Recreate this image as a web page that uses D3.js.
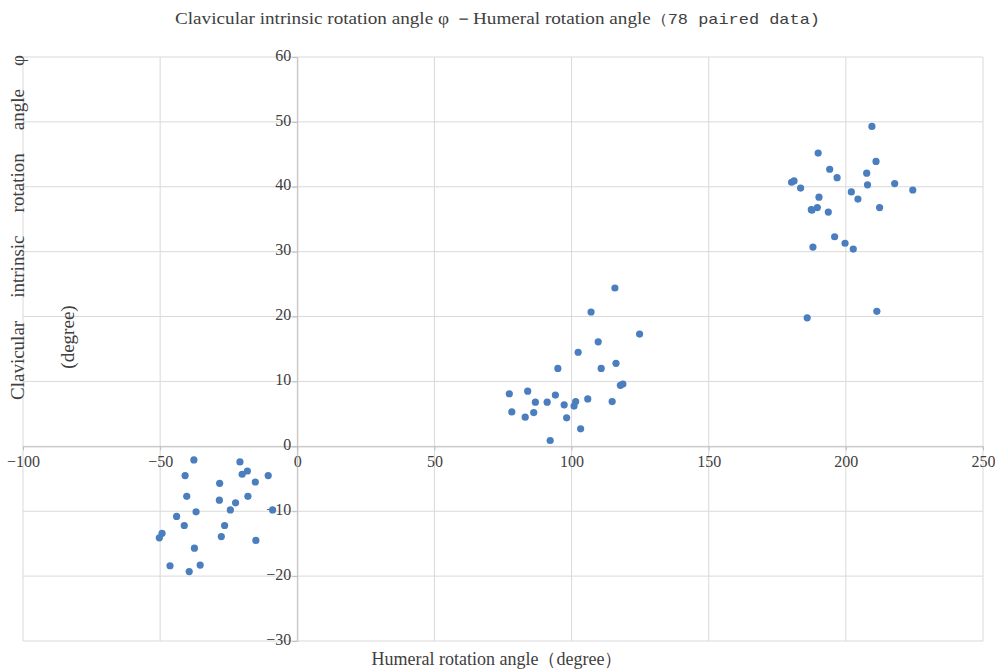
<!DOCTYPE html>
<html>
<head>
<meta charset="utf-8">
<script src="https://cdn.jsdelivr.net/npm/d3@7"></script>
<style>
  body { margin: 0; background: #fff; }
  text { font-family: "Liberation Serif", "DejaVu Serif", serif; fill: #404040; }
</style>
</head>
<body>
<div id="chart"></div>
<script>
// humeral rotation angle (x) and clavicular intrinsic rotation angle (y), 78 pairs
const humeral = [
  -37.7, -20.9, -40.9, -20.1, -18.2, -10.6, -28.3, -15.3, -40.3, -18.0,
  -28.4, -22.5, -24.4, -36.9, -9.0, -44.0, -41.2, -26.5, -49.3, -50.3,
  -27.7, -15.1, -37.5, -46.4, -35.4, -39.4,
  115.8, 107.1, 124.8, 109.7, 102.4, 116.2, 95.0, 110.8, 117.8, 118.7,
  77.3, 84.0, 94.1, 86.8, 91.1, 101.5, 100.9, 105.9, 114.8, 97.3,
  78.2, 86.2, 83.1, 98.2, 103.3, 92.2,
  209.5, 189.9, 211.0, 194.1, 207.6, 196.8, 180.2, 181.1, 217.8, 207.9,
  183.5, 224.4, 202.0, 190.2, 204.4, 187.4, 187.6, 189.6, 212.3, 193.6,
  195.9, 199.7, 188.0, 202.7, 211.3, 185.9
];
const clavicular = [
  -2.1, -2.4, -4.5, -4.3, -3.8, -4.5, -5.7, -5.5, -7.7, -7.7,
  -8.3, -8.7, -9.8, -10.1, -9.8, -10.8, -12.2, -12.2, -13.4, -14.1,
  -13.9, -14.5, -15.7, -18.4, -18.3, -19.3,
  24.4, 20.7, 17.3, 16.1, 14.5, 12.8, 12.0, 12.0, 9.4, 9.6,
  8.1, 8.5, 7.9, 6.8, 6.8, 6.9, 6.2, 7.3, 6.9, 6.4,
  5.3, 5.2, 4.5, 4.4, 2.7, 0.9,
  49.3, 45.2, 43.9, 42.7, 42.1, 41.4, 40.7, 40.9, 40.5, 40.3,
  39.8, 39.5, 39.2, 38.4, 38.1, 36.5, 36.4, 36.8, 36.8, 36.1,
  32.3, 31.3, 30.7, 30.4, 20.8, 19.8
];
const xTicks = [-100, -50, 0, 50, 100, 150, 200, 250];
const yTicks = [-30, -20, -10, 0, 10, 20, 30, 40, 50, 60];

const width = 995, height = 671;
const margin = {top: 57, right: 12, bottom: 30, left: 23};

const svg = d3.select("#chart")
    .append("svg")
    .attr("width", width)
    .attr("height", height);

const x = d3.scaleLinear().domain([-100, 250]).range([margin.left, width - margin.right]);
const y = d3.scaleLinear().domain([-30, 60]).range([height - margin.bottom, margin.top]);

// gridlines
svg.append("g")
    .selectAll("line")
    .data(xTicks)
    .enter()
    .append("line")
    .attr("x1", d => x(d)).attr("x2", d => x(d))
    .attr("y1", y(60)).attr("y2", y(-30))
    .attr("stroke", "#d9d9d9");

svg.append("g")
    .selectAll("line")
    .data(yTicks)
    .enter()
    .append("line")
    .attr("x1", x(-100)).attr("x2", x(250))
    .attr("y1", d => y(d)).attr("y2", d => y(d))
    .attr("stroke", "#d9d9d9");

// axes crossing at zero
const xAxis = svg.append("g")
    .attr("transform", `translate(0, ${y(0)})`)
    .call(d3.axisBottom(x).tickValues(xTicks).tickSize(4).tickSizeOuter(0));
const yAxis = svg.append("g")
    .attr("transform", `translate(${x(0)}, 0)`)
    .call(d3.axisLeft(y).tickValues(yTicks).tickSize(5).tickSizeOuter(0));

[xAxis, yAxis].forEach(a => {
    a.select(".domain").attr("stroke", "#bfbfbf");
    a.selectAll(".tick line").attr("stroke", "#bfbfbf");
    a.selectAll(".tick text")
        .style("font-family", "'Liberation Serif', serif")
        .style("font-size", "16px")
        .attr("fill", "#222");
});
xAxis.selectAll(".tick text").attr("dy", "0.95em").attr("y", 5);
yAxis.selectAll(".tick text").attr("x", -6).attr("dy", "0.2em");

// points
svg.append("g")
    .selectAll("circle")
    .data(humeral.map((h, i) => [h, clavicular[i]]))
    .enter()
    .append("circle")
    .attr("cx", d => x(d[0]))
    .attr("cy", d => y(d[1]))
    .attr("r", 3.6)
    .style("fill", "#4a7ebf");

// title
const title = svg.append("text")
    .attr("x", 175)
    .attr("y", 24)
    .style("font-size", "17px")
    .attr("fill", "#222");
title.append("tspan").text("Clavicular intrinsic rotation angle φ －Humeral rotation angle");
title.append("tspan")
    .style("font-family", "'Liberation Mono', monospace")
    .style("font-size", "15px")
    .text("（78 paired data)");
title.attr("textLength", 645).attr("lengthAdjust", "spacingAndGlyphs");

// x axis title
svg.append("text")
    .attr("x", 497)
    .attr("y", 665)
    .style("text-anchor", "middle")
    .style("font-size", "18px")
    .attr("fill", "#222")
    .text("Humeral rotation angle（degree）");

// y axis title, first line spread over the full height like the original
const yTitle = svg.append("text")
    .attr("transform", "translate(24, 400) rotate(-90)")
    .style("font-size", "19px")
    .attr("fill", "#222")
    .text("Clavicular intrinsic rotation angle φ");
const yLen = yTitle.node().getComputedTextLength();
yTitle.style("word-spacing", `${(345 - yLen) / 4}px`);

svg.append("text")
    .attr("transform", "translate(74, 337) rotate(-90)")
    .style("text-anchor", "middle")
    .style("font-size", "19px")
    .attr("fill", "#444")
    .text("(degree)");
</script>
</body>
</html>
